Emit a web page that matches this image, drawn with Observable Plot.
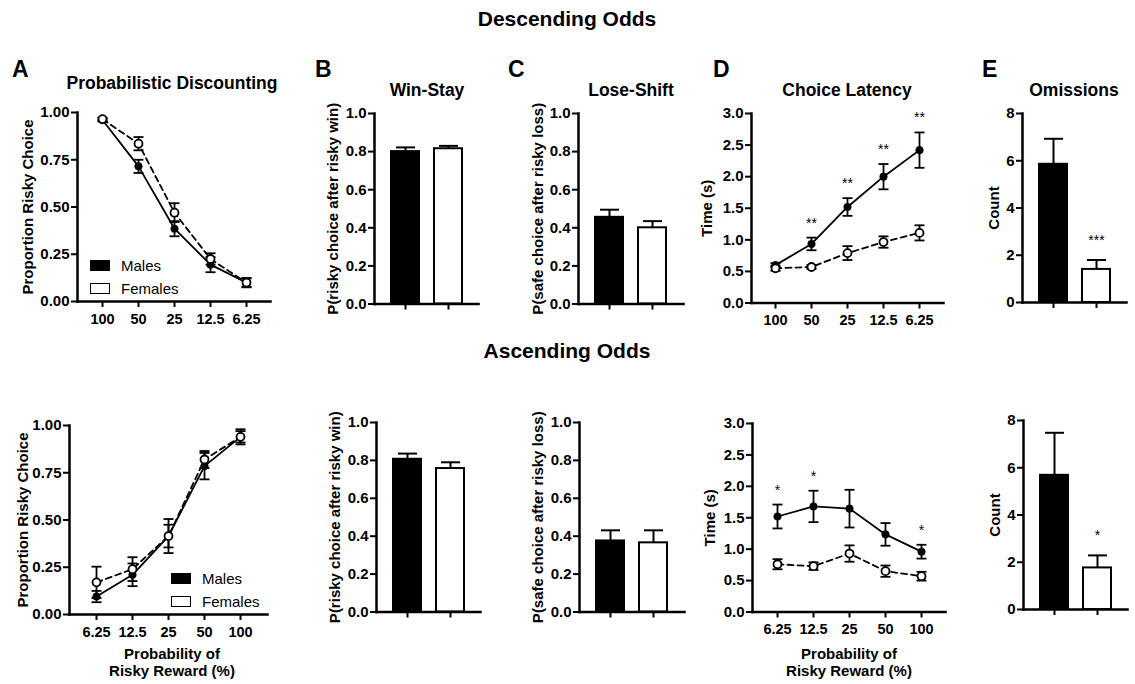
<!DOCTYPE html>
<html><head><meta charset="utf-8">
<script src="https://cdn.jsdelivr.net/npm/d3@7"></script>
<script src="https://cdn.jsdelivr.net/npm/@observablehq/plot@0.6"></script>
<style>
html,body{margin:0;padding:0;background:#fff;}
#fig{position:relative;width:1135px;height:684px;background:#fff;font-family:"Liberation Sans",Arial,Helvetica,sans-serif;color:#000;overflow:hidden;}
.t{position:absolute;white-space:nowrap;line-height:1;}
.sw{position:absolute;box-sizing:border-box;border:1.5px solid #000;}
</style></head><body><div id="fig"></div>
<script>
// ---------------- DATA ----------------
const sexes = ["Males", "Females"];
const probDescending = ["100", "50", "25", "12.5", "6.25"];
const probAscending = ["6.25", "12.5", "25", "50", "100"];

// Descending odds
const descRiskyMales = [0.96, 0.715, 0.385, 0.195, 0.10];
const descRiskyMalesSem = [0.008, 0.035, 0.04, 0.04, 0.022];
const descRiskyFemales = [0.965, 0.835, 0.47, 0.225, 0.10];
const descRiskyFemalesSem = [0.008, 0.035, 0.05, 0.03, 0.025];
const descWinStay = [0.80, 0.815];
const descWinStaySem = [0.022, 0.015];
const descLoseShift = [0.455, 0.40];
const descLoseShiftSem = [0.04, 0.035];
const descLatencyMales = [0.60, 0.935, 1.52, 2.0, 2.42];
const descLatencyMalesSem = [0.03, 0.10, 0.14, 0.20, 0.28];
const descLatencyFemales = [0.55, 0.57, 0.79, 0.965, 1.11];
const descLatencyFemalesSem = [0.04, 0.03, 0.11, 0.09, 0.12];
const descLatencyStars = ["", "**", "**", "**", "**"];
const descOmissions = [5.85, 1.40];
const descOmissionsSem = [1.08, 0.40];
const descOmissionsStars = ["", "***"];

// Ascending odds
const ascRiskyMales = [0.095, 0.21, 0.415, 0.785, 0.94];
const ascRiskyMalesSem = [0.03, 0.06, 0.09, 0.07, 0.04];
const ascRiskyFemales = [0.17, 0.24, 0.415, 0.82, 0.94];
const ascRiskyFemalesSem = [0.083, 0.063, 0.06, 0.045, 0.03];
const ascWinStay = [0.806, 0.757];
const ascWinStaySem = [0.03, 0.033];
const ascLoseShift = [0.375, 0.365];
const ascLoseShiftSem = [0.056, 0.066];
const ascLatencyMales = [1.52, 1.68, 1.645, 1.235, 0.96];
const ascLatencyMalesSem = [0.19, 0.25, 0.30, 0.18, 0.11];
const ascLatencyFemales = [0.76, 0.73, 0.93, 0.65, 0.57];
const ascLatencyFemalesSem = [0.08, 0.06, 0.13, 0.09, 0.07];
const ascLatencyStars = ["*", "*", "", "", "*"];
const ascOmissions = [5.68, 1.76];
const ascOmissionsSem = [1.8, 0.53];
const ascOmissionsStars = ["", "*"];

// tick values
const propTicks = [0, 0.25, 0.5, 0.75, 1];
const pTicks = [0, 0.2, 0.4, 0.6, 0.8, 1];
const timeTicks = [0, 0.5, 1, 1.5, 2, 2.5, 3];
const countTicks = [0, 2, 4, 6, 8];

// ---------------- LAYOUT HELPERS ----------------
const fig = document.getElementById("fig");
const FONT = '"Liberation Sans", Arial, Helvetica, sans-serif';
const M = {left: 72, right: 14, top: 26, bottom: 36};

function label(text, x, y, {size = 15, weight = "bold", align = "center"} = {}) {
  const d = document.createElement("div");
  d.className = "t";
  d.textContent = text;
  d.style.left = x + "px";
  d.style.top = y + "px";
  d.style.fontSize = size + "px";
  d.style.fontWeight = weight;
  d.style.transform = align === "center" ? "translate(-50%,-50%)" : "translate(0,-50%)";
  fig.appendChild(d);
}
function swatch(x, y, w, h, fill) {
  const d = document.createElement("div");
  d.className = "sw";
  Object.assign(d.style, {left: x + "px", top: y + "px", width: w + "px", height: h + "px", background: fill});
  fig.appendChild(d);
}
function place(svg, f) {
  svg.style.position = "absolute";
  svg.style.left = (f.left - M.left) + "px";
  svg.style.top = (f.top - M.top) + "px";
  fig.appendChild(svg);
}
const cap = (hw) => ({draw(ctx) { ctx.moveTo(-hw, 0); ctx.lineTo(hw, 0); }});

function baseOpts(f) {
  return {
    width: f.right - f.left + M.left + M.right,
    height: f.bottom - f.top + M.top + M.bottom,
    marginLeft: M.left, marginRight: M.right, marginTop: M.top, marginBottom: M.bottom,
    style: {fontFamily: FONT, fontSize: "14.5px", fontWeight: "bold", color: "black", background: "transparent", overflow: "visible"}
  };
}
function yAxis(ticks, fmt, text, dist) {
  return Plot.axisY({ticks, tickFormat: fmt, tickSize: 6, tickPadding: 2, strokeWidth: 2,
    label: text, labelAnchor: "center", labelArrow: "none", labelOffset: dist + 6, fontSize: 15});
}
function axisLines() {
  return [Plot.frame({anchor: "left", strokeWidth: 2.5}), Plot.frame({anchor: "bottom", strokeWidth: 2.5})];
}

function linePanel(c) {
  const rows = c.cats.map((cat, i) => ({cat, m: c.males[i], ms: c.malesSem[i], f: c.females[i], fs: c.femalesSem[i], star: c.stars ? c.stars[i] : ""}));
  const svg = Plot.plot({
    ...baseOpts(c.frame),
    x: {type: "point", domain: c.cats, padding: c.padding},
    y: {domain: c.yDomain},
    marks: [
      yAxis(c.yTicks, c.yFormat, c.yLabel, c.labelDist),
      Plot.axisX({tickSize: 6, tickPadding: 6, strokeWidth: 2, label: null}),
      ...axisLines(),
      Plot.ruleX(rows, {x: "cat", y1: d => d.m - d.ms, y2: d => d.m + d.ms, stroke: "black", strokeWidth: 1.8}),
      Plot.dot(rows, {x: "cat", y: d => d.m + d.ms, symbol: cap(5), fill: "none", stroke: "black", strokeWidth: 1.8}),
      Plot.dot(rows, {x: "cat", y: d => d.m - d.ms, symbol: cap(5), fill: "none", stroke: "black", strokeWidth: 1.8}),
      Plot.line(rows, {x: "cat", y: "m", stroke: "black", strokeWidth: 1.8}),
      Plot.dot(rows, {x: "cat", y: "m", r: 3.8, fill: "black", stroke: "black", strokeWidth: 0.5}),
      Plot.ruleX(rows, {x: "cat", y1: d => d.f - d.fs, y2: d => d.f + d.fs, stroke: "black", strokeWidth: 1.8}),
      Plot.dot(rows, {x: "cat", y: d => d.f + d.fs, symbol: cap(5), fill: "none", stroke: "black", strokeWidth: 1.8}),
      Plot.dot(rows, {x: "cat", y: d => d.f - d.fs, symbol: cap(5), fill: "none", stroke: "black", strokeWidth: 1.8}),
      Plot.line(rows, {x: "cat", y: "f", stroke: "black", strokeWidth: 1.8, strokeDasharray: "6,4"}),
      Plot.dot(rows, {x: "cat", y: "f", r: 4, fill: "white", stroke: "black", strokeWidth: 1.8}),
      Plot.text(rows, {x: "cat", y: d => d.m + d.ms, text: "star", dy: -14.5, fontSize: 14, fontWeight: "normal", fill: "black"})
    ]
  });
  place(svg, c.frame);
}

function barPanel(c) {
  const rows = sexes.map((sex, i) => ({sex, v: c.values[i], e: c.sem[i], star: c.stars ? c.stars[i] : ""}));
  const svg = Plot.plot({
    ...baseOpts(c.frame),
    x: {type: "band", domain: sexes, paddingInner: 0.35, paddingOuter: 0.37},
    y: {domain: c.yDomain},
    marks: [
      Plot.ruleX(rows, {x: "sex", y1: "v", y2: d => d.v + d.e, stroke: "black", strokeWidth: 2}),
      Plot.dot(rows, {x: "sex", y: d => d.v + d.e, symbol: cap(9.5), fill: "none", stroke: "black", strokeWidth: 2}),
      Plot.barY(rows, {filter: d => d.sex === "Males", x: "sex", y: "v", fill: "black", stroke: "black", strokeWidth: 2}),
      Plot.barY(rows, {filter: d => d.sex === "Females", x: "sex", y: "v", fill: "white", stroke: "black", strokeWidth: 2}),
      yAxis(c.yTicks, c.yFormat, c.yLabel, c.labelDist),
      Plot.axisX({tickSize: 6, tickFormat: () => "", strokeWidth: 2, label: null}),
      ...axisLines(),
      Plot.text(rows, {x: "sex", y: d => d.v + d.e, text: "star", dy: -19.5, fontSize: 14, fontWeight: "normal", fill: "black"})
    ]
  });
  place(svg, c.frame);
}

const f2 = d3.format(".2f"), f1 = d3.format(".1f"), f0 = d3.format("d");

// ---------------- HEADERS ----------------
label("Descending Odds", 567, 18, {size: 21});
label("Ascending Odds", 567, 350, {size: 21});
[["A", 12], ["B", 315], ["C", 508], ["D", 713], ["E", 982]].forEach(([t, x]) => label(t, x, 69, {size: 23, align: "left"}));
label("Probabilistic Discounting", 172, 84, {size: 17.5});
label("Win-Stay", 427, 91, {size: 17.5});
label("Lose-Shift", 631, 91, {size: 17.5});
label("Choice Latency", 847, 91, {size: 17.5});
label("Omissions", 1074, 91, {size: 17.5});

// ---------------- TOP ROW (descending) ----------------
linePanel({frame: {left: 77, right: 270, top: 112, bottom: 301}, cats: probDescending, padding: 0.63,
  males: descRiskyMales, malesSem: descRiskyMalesSem, females: descRiskyFemales, femalesSem: descRiskyFemalesSem,
  yDomain: [0, 1], yTicks: propTicks, yFormat: f2, yLabel: "Proportion Risky Choice", labelDist: 49});
barPanel({frame: {left: 374, right: 478, top: 113, bottom: 303.5}, values: descWinStay, sem: descWinStaySem,
  yDomain: [0, 1], yTicks: pTicks, yFormat: f1, yLabel: "P(risky choice after risky win)", labelDist: 41});
barPanel({frame: {left: 578, right: 683, top: 113, bottom: 303.5}, values: descLoseShift, sem: descLoseShiftSem,
  yDomain: [0, 1], yTicks: pTicks, yFormat: f1, yLabel: "P(safe choice after risky loss)", labelDist: 40});
linePanel({frame: {left: 751, right: 943, top: 113, bottom: 302.5}, cats: probDescending, padding: 0.63,
  males: descLatencyMales, malesSem: descLatencyMalesSem, females: descLatencyFemales, femalesSem: descLatencyFemalesSem,
  stars: descLatencyStars, yDomain: [0, 3], yTicks: timeTicks, yFormat: f1, yLabel: "Time (s)", labelDist: 44});
barPanel({frame: {left: 1022, right: 1126, top: 113, bottom: 302}, values: descOmissions, sem: descOmissionsSem,
  stars: descOmissionsStars, yDomain: [0, 8], yTicks: countTicks, yFormat: f0, yLabel: "Count", labelDist: 28});

// ---------------- BOTTOM ROW (ascending) ----------------
linePanel({frame: {left: 69, right: 267, top: 425, bottom: 614}, cats: probAscending, padding: 0.68,
  males: ascRiskyMales, malesSem: ascRiskyMalesSem, females: ascRiskyFemales, femalesSem: ascRiskyFemalesSem,
  yDomain: [0, 1], yTicks: propTicks, yFormat: f2, yLabel: "Proportion Risky Choice", labelDist: 46});
barPanel({frame: {left: 376, right: 480, top: 422, bottom: 611.5}, values: ascWinStay, sem: ascWinStaySem,
  yDomain: [0, 1], yTicks: pTicks, yFormat: f1, yLabel: "P(risky choice after risky win)", labelDist: 41});
barPanel({frame: {left: 579, right: 684, top: 422, bottom: 611.5}, values: ascLoseShift, sem: ascLoseShiftSem,
  yDomain: [0, 1], yTicks: pTicks, yFormat: f1, yLabel: "P(safe choice after risky loss)", labelDist: 41});
linePanel({frame: {left: 752, right: 945, top: 423, bottom: 611.5}, cats: probAscending, padding: 0.64,
  males: ascLatencyMales, malesSem: ascLatencyMalesSem, females: ascLatencyFemales, femalesSem: ascLatencyFemalesSem,
  stars: ascLatencyStars, yDomain: [0, 3], yTicks: timeTicks, yFormat: f1, yLabel: "Time (s)", labelDist: 42});
barPanel({frame: {left: 1023, right: 1127, top: 420, bottom: 609}, values: ascOmissions, sem: ascOmissionsSem,
  stars: ascOmissionsStars, yDomain: [0, 8], yTicks: countTicks, yFormat: f0, yLabel: "Count", labelDist: 28});

// x-axis titles (bottom row)
[172, 849].forEach(x => { label("Probability of", x, 653); label("Risky Reward (%)", x, 670); });

// ---------------- LEGENDS ----------------
swatch(90, 260, 20, 10.5, "black"); label(sexes[0], 121, 265, {weight: "normal", align: "left"});
swatch(90, 283, 20, 10.5, "white"); label(sexes[1], 121, 288, {weight: "normal", align: "left"});
swatch(171, 573, 20, 10.5, "black"); label(sexes[0], 202, 578, {weight: "normal", align: "left"});
swatch(171, 596, 20, 10.5, "white"); label(sexes[1], 202, 601, {weight: "normal", align: "left"});
</script></body></html>
